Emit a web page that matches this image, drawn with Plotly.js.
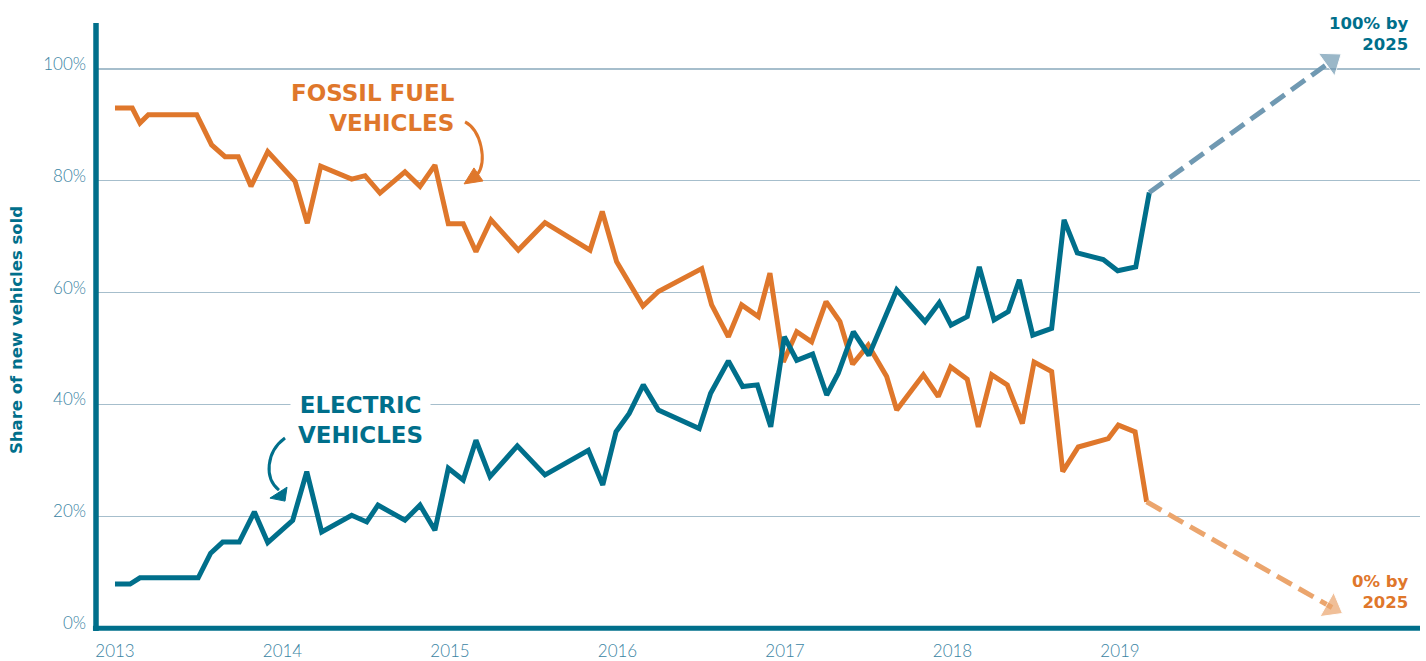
<!DOCTYPE html>
<html>
<head>
<meta charset="utf-8">
<script src="https://cdn.plot.ly/plotly-3.0.1.min.js"></script>
<style>
  html, body { margin: 0; padding: 0; background: #ffffff; }
  #chart { width: 1426px; height: 661px; }
</style>
</head>
<body>
<div id="chart"></div>
<script>
// ---- Data ----
var fossilX = [2013.000, 2013.103, 2013.149, 2013.199, 2013.488, 2013.577, 2013.657, 2013.736, 2013.812, 2013.912,
  2014.075, 2014.148, 2014.228, 2014.413, 2014.493, 2014.582, 2014.731, 2014.821, 2014.910, 2014.990,
  2015.079, 2015.155, 2015.245, 2015.408, 2015.567, 2015.836, 2015.909, 2015.995, 2016.152, 2016.244,
  2016.503, 2016.562, 2016.662, 2016.741, 2016.841, 2016.910, 2016.990, 2017.070, 2017.159, 2017.245,
  2017.328, 2017.404, 2017.497, 2017.607, 2017.667, 2017.826, 2017.915, 2017.989, 2018.088, 2018.154,
  2018.234, 2018.327, 2018.417, 2018.487, 2018.592, 2018.658, 2018.751, 2018.930, 2018.990, 2019.090,
  2019.159];
var fossilY = [93.0, 93.0, 90.3, 91.8, 91.8, 86.4, 84.3, 84.3, 79.0, 85.2,
  79.9, 72.4, 82.6, 80.3, 80.9, 77.8, 81.6, 79.0, 82.8, 72.3,
  72.3, 67.3, 73.0, 67.6, 72.5, 67.6, 74.5, 65.5, 57.6, 60.2,
  64.3, 57.8, 52.1, 57.8, 55.7, 63.5, 47.6, 53.0, 51.2, 58.4,
  54.8, 47.2, 50.6, 45.0, 39.0, 45.3, 41.4, 46.7, 44.5, 36.0,
  45.3, 43.5, 36.6, 47.6, 45.9, 28.0, 32.4, 33.9, 36.3, 35.1,
  22.6];

var evX = [2013.000, 2013.090, 2013.149, 2013.497, 2013.571, 2013.643, 2013.742, 2013.832, 2013.912, 2014.061,
  2014.145, 2014.234, 2014.413, 2014.503, 2014.570, 2014.731, 2014.821, 2014.910, 2014.990, 2015.079,
  2015.155, 2015.239, 2015.402, 2015.567, 2015.826, 2015.912, 2015.991, 2016.070, 2016.154, 2016.244,
  2016.488, 2016.556, 2016.662, 2016.747, 2016.835, 2016.915, 2016.996, 2017.070, 2017.165, 2017.249,
  2017.318, 2017.408, 2017.501, 2017.667, 2017.836, 2017.921, 2017.991, 2018.088, 2018.160, 2018.248,
  2018.333, 2018.399, 2018.479, 2018.592, 2018.666, 2018.745, 2018.900, 2018.986, 2019.094, 2019.175];
var evY = [7.9, 7.9, 9.0, 9.0, 13.4, 15.4, 15.4, 20.8, 15.3, 19.3,
  28.0, 17.2, 20.2, 19.0, 22.0, 19.3, 22.0, 17.5, 28.6, 26.5,
  33.6, 27.1, 32.6, 27.4, 31.8, 25.6, 35.1, 38.4, 43.5, 39.0,
  35.7, 42.0, 47.8, 43.2, 43.5, 36.0, 52.1, 47.9, 49.0, 41.7,
  45.6, 53.0, 48.8, 60.5, 54.8, 58.2, 54.2, 55.7, 64.6, 55.1,
  56.6, 62.3, 52.4, 53.6, 73.0, 67.1, 65.9, 63.9, 64.6, 77.9];

// projections to 2025 (drawn as dashed arrows)
var evProjX = [2019.175, 2020.262];
var evProjY = [77.9, 101.4];
var fossilProjX = [2019.159, 2020.266];
var fossilProjY = [22.6, 3.7];

var yTickVals = [0, 20, 40, 60, 80, 100];
var yTickText = ['0%', '20%', '40%', '60%', '80%', '100%'];
var xTickVals = [2013, 2014, 2015, 2016, 2017, 2018, 2019];
var xTickText = ['2013', '2014', '2015', '2016', '2017', '2018', '2019'];

// ---- Styles ----
var ORANGE = '#DF772B';
var TEAL = '#006F8B';
var ORANGE_LIGHT = '#EBA56D';
var TEAL_LIGHT = '#7099B2';
var GRID = '#A6BECC';
var TICK = '#3A84A3';
var BOLD = 'DejaVu Sans, Verdana, sans-serif';
var LIGHT = 'Lato, Open Sans, sans-serif';

var traces = [
  { x: fossilX, y: fossilY, type: 'scatter', mode: 'lines',
    line: { color: ORANGE, width: 5 }, hoverinfo: 'skip' },
  { x: evX, y: evY, type: 'scatter', mode: 'lines',
    line: { color: TEAL, width: 5 }, hoverinfo: 'skip' },
  { x: evProjX, y: evProjY, type: 'scatter', mode: 'lines+markers',
    line: { color: TEAL_LIGHT, width: 5, dash: '17px,8px' },
    marker: { size: [0, 24], symbol: 'triangle-up', color: TEAL_LIGHT, angleref: 'previous', angle: 0 },
    hoverinfo: 'skip' },
  { x: fossilProjX, y: fossilProjY, type: 'scatter', mode: 'lines+markers',
    line: { color: ORANGE_LIGHT, width: 5, dash: '17px,8px' },
    marker: { size: [0, 24], symbol: 'triangle-up', color: ORANGE_LIGHT, angleref: 'previous', angle: 0 },
    hoverinfo: 'skip' }
];

var layout = {
  width: 1426, height: 661,
  margin: { l: 96, r: 6, t: 23, b: 30 },
  paper_bgcolor: '#ffffff', plot_bgcolor: '#ffffff',
  showlegend: false,
  xaxis: {
    range: [2012.8866, 2020.791], showgrid: false, zeroline: false, showline: false,
    tickvals: xTickVals, ticktext: xTickText, ticks: '',
    ticklabelstandoff: 8,
    tickfont: { family: LIGHT, size: 17, color: TICK, weight: 300 }
  },
  yaxis: {
    range: [-0.5, 108.2], showgrid: true, gridcolor: GRID, gridwidth: 1.5,
    zeroline: false, showline: false,
    tickvals: yTickVals, ticktext: yTickText, ticks: '',
    ticklabelstandoff: 9, ticklabelshift: -5,
    tickfont: { family: LIGHT, size: 17, color: TICK, weight: 300 }
  },
  shapes: [
    // axis lines
    { type: 'line', xref: 'paper', yref: 'paper', x0: 0, x1: 0, y0: 0, y1: 1,
      line: { color: TEAL, width: 5.5 } },
    { type: 'line', xref: 'paper', yref: 'y', x0: -0.0023, x1: 1, y0: 0, y1: 0,
      line: { color: TEAL, width: 5 } },
    // curved pointer for fossil label
    { type: 'path', xref: 'x', yref: 'y', layer: 'above',
      path: 'M 2015.090,90.52 C 2015.185,89.0 2015.225,83.5 2015.161,81.0',
      line: { color: ORANGE, width: 3 } },
    { type: 'path', xref: 'x', yref: 'y', layer: 'above',
      path: 'M 2015.084,79.43 L 2015.143,82.29 L 2015.197,79.96 Z',
      fillcolor: ORANGE, line: { color: ORANGE, width: 1 } },
    // curved pointer for electric label
    { type: 'path', xref: 'x', yref: 'y', layer: 'above',
      path: 'M 2014.015,33.99 C 2013.901,31.48 2013.890,26.83 2013.979,24.69',
      line: { color: TEAL, width: 3 } },
    { type: 'path', xref: 'x', yref: 'y', layer: 'above',
      path: 'M 2013.925,23.26 L 2014.027,25.22 L 2014.015,22.72 Z',
      fillcolor: TEAL, line: { color: TEAL, width: 1 } }
  ],
  annotations: [
    { xref: 'paper', yref: 'y', x: -0.0604, y: 53.3, textangle: -90,
      text: '<b>Share of new vehicles sold</b>', showarrow: false,
      xanchor: 'center', yanchor: 'middle',
      font: { family: BOLD, size: 16.5, color: TEAL } },
    { xref: 'x', yref: 'y', x: 2015.042, y: 93.0, xanchor: 'right', yanchor: 'middle', align: 'right',
      text: '<b>FOSSIL FUEL<br>VEHICLES</b>', showarrow: false,
      font: { family: BOLD, size: 23, color: ORANGE } },
    { xref: 'x', yref: 'y', x: 2014.463, y: 37.2, xanchor: 'center', yanchor: 'middle', align: 'center',
      text: '<b>ELECTRIC<br>VEHICLES</b>', showarrow: false, bgcolor: '#ffffff', borderpad: 7,
      font: { family: BOLD, size: 23, color: TEAL } },
    { xref: 'x', yref: 'y', x: 2020.737, y: 106.2, xanchor: 'right', yanchor: 'middle', align: 'right',
      text: '<b>100% by<br>2025</b>', showarrow: false,
      font: { family: BOLD, size: 16.5, color: TEAL } },
    { xref: 'x', yref: 'y', x: 2020.737, y: 6.4, xanchor: 'right', yanchor: 'middle', align: 'right',
      text: '<b>0% by<br>2025</b>', showarrow: false,
      font: { family: BOLD, size: 16.5, color: ORANGE } }
  ]
};

Plotly.newPlot('chart', traces, layout, { displayModeBar: false, staticPlot: true });
</script>
</body>
</html>
